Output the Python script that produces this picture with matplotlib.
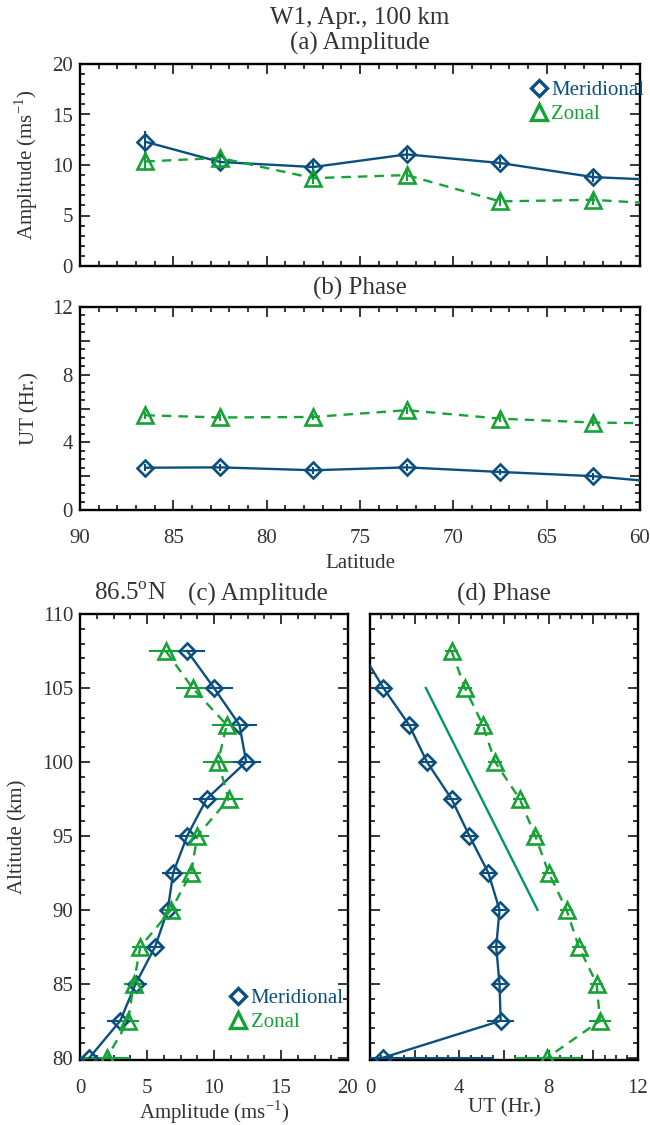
import numpy as np
import matplotlib
matplotlib.use("Agg")
import matplotlib.pyplot as plt
from matplotlib.lines import Line2D
from matplotlib.ticker import MultipleLocator

plt.rcParams['font.family'] = ['Liberation Serif', 'DejaVu Serif']
plt.rcParams['mathtext.fontset'] = 'custom'
plt.rcParams['mathtext.rm'] = 'Liberation Serif'

# latitude cross-section at 100 km
lat = [86.5, 82.5, 77.5, 72.5, 67.5, 62.5, 57.5]
mer_amp_lat = [12.3, 10.3, 9.8, 11.05, 10.2, 8.8, 8.4]
mer_amp_lat_err = [1.1, 0.6, 0.5, 0.5, 0.5, 0.5, 0.5]
zon_amp_lat = [10.35, 10.7, 8.7, 9.0, 6.4, 6.55, 6.0]
zon_amp_lat_err = [0.9, 0.8, 0.6, 0.6, 0.5, 0.5, 0.5]
mer_ph_lat = [2.5, 2.52, 2.35, 2.52, 2.25, 2.0, 1.5]
mer_ph_lat_err = [0.2, 0.2, 0.2, 0.2, 0.2, 0.2, 0.2]
zon_ph_lat = [5.6, 5.47, 5.5, 5.9, 5.4, 5.17, 5.1]
zon_ph_lat_err = [0.2, 0.2, 0.2, 0.2, 0.2, 0.2, 0.2]

# altitude profile at 86.5N
alt = [107.5, 105, 102.5, 100, 97.5, 95, 92.5, 90, 87.5, 85, 82.5, 80]
mer_amp = [8.0, 10.0, 11.9, 12.4, 9.45, 8.0, 6.95, 6.55, 5.6, 4.15, 3.0, 0.7]
mer_amp_err = [1.3, 1.4, 1.3, 1.1, 1.0, 0.9, 0.8, 0.5, 0.55, 0.85, 0.95, 0.9]
zon_amp = [6.4, 8.4, 10.95, 10.3, 11.1, 8.75, 8.3, 6.8, 4.5, 4.0, 3.6, 2.0]
zon_amp_err = [1.25, 1.2, 1.1, 1.1, 1.1, 0.85, 0.75, 0.75, 0.6, 0.75, 0.8, 1.75]
mer_ph = [-0.4, 0.6, 1.75, 2.55, 3.65, 4.45, 5.3, 5.8, 5.65, 5.8, 5.85, 0.57]
mer_ph_err = [0.3, 0.3, 0.3, 0.3, 0.3, 0.3, 0.3, 0.3, 0.3, 0.3, 0.6, 5.0]
zon_ph = [3.65, 4.25, 5.05, 5.6, 6.7, 7.4, 8.0, 8.8, 9.35, 10.15, 10.3, 7.93]
zon_ph_err = [0.3, 0.3, 0.3, 0.3, 0.3, 0.3, 0.3, 0.3, 0.3, 0.3, 0.5, 1.5]

# reference slope line in (d)
ref_ut = [2.5, 7.5]
ref_alt = [105, 90]

blue = '#0b4f7f'
green = '#16a236'
teal = '#00956a'
txt = '#333333'

fig = plt.figure(figsize=(6.5, 11.25), dpi=100)
W, H = 650.0, 1125.0
ax_a = fig.add_axes([80/W, 1-266/H, 560/W, 202/H])
ax_b = fig.add_axes([80/W, 1-510/H, 560/W, 203/H])
ax_c = fig.add_axes([80/W, 1-1060/H, 268/W, 446/H])
ax_d = fig.add_axes([370/W, 1-1060/H, 268/W, 446/H])

mer_kw = dict(color=blue, marker='D', ms=8.5, mfc='none', mew=1.9, lw=1.7,
              elinewidth=1.5, capsize=0, zorder=3)
zon_kw = dict(color=green, marker='^', ms=12, mfc='none', mew=1.9, lw=1.7,
              ls=(0, (4, 3)), elinewidth=1.5, capsize=0, zorder=3)


def style(ax):
    ax.tick_params(which='both', direction='in', top=True, right=True,
                   color='black', labelcolor=txt, labelsize=15)
    ax.tick_params(which='major', length=7, width=1.1)
    ax.tick_params(which='minor', length=3.5, width=1.1)
    ax.tick_params(axis='x', pad=14)
    ax.tick_params(axis='y', pad=5)
    for s in ax.spines.values():
        s.set_linewidth(1.7)


# (a) amplitude vs latitude
ax_a.errorbar(lat, mer_amp_lat, yerr=mer_amp_lat_err, **mer_kw)
ax_a.errorbar(lat, zon_amp_lat, yerr=zon_amp_lat_err, **zon_kw)
ax_a.set_xlim(90, 60)
ax_a.set_ylim(0, 20)
ax_a.xaxis.set_major_locator(MultipleLocator(5))
ax_a.xaxis.set_minor_locator(MultipleLocator(1))
ax_a.yaxis.set_major_locator(MultipleLocator(5))
ax_a.yaxis.set_minor_locator(MultipleLocator(1))
style(ax_a)
ax_a.set_xticklabels([])
ax_a.set_ylabel('Amplitude (ms$^{\\mathregular{-1}}$)', fontsize=15, color=txt)
ax_a.yaxis.set_label_coords(-0.072, 0.5)

# (b) phase vs latitude
ax_b.errorbar(lat, mer_ph_lat, yerr=mer_ph_lat_err, **mer_kw)
ax_b.errorbar(lat, zon_ph_lat, yerr=zon_ph_lat_err, **zon_kw)
ax_b.set_xlim(90, 60)
ax_b.set_ylim(0, 12)
ax_b.xaxis.set_major_locator(MultipleLocator(5))
ax_b.xaxis.set_minor_locator(MultipleLocator(1))
ax_b.set_yticks(np.arange(0, 13, 2))
ax_b.set_yticklabels(['0', '', '4', '', '8', '', '12'])
ax_b.yaxis.set_minor_locator(MultipleLocator(0.5))
style(ax_b)
ax_b.set_ylabel('UT (Hr.)', fontsize=15, color=txt)
ax_b.yaxis.set_label_coords(-0.072, 0.5)
ax_b.set_xlabel('Latitude', fontsize=15, color=txt)
ax_b.xaxis.set_label_coords(0.5, -0.215)

# (c) amplitude vs altitude
ax_c.errorbar(mer_amp, alt, xerr=mer_amp_err, **mer_kw)
ax_c.errorbar(zon_amp, alt, xerr=zon_amp_err, **zon_kw)
ax_c.set_xlim(0, 20)
ax_c.set_ylim(79.85, 110)
ax_c.xaxis.set_major_locator(MultipleLocator(5))
ax_c.xaxis.set_minor_locator(MultipleLocator(1.25))
ax_c.yaxis.set_major_locator(MultipleLocator(5))
ax_c.yaxis.set_minor_locator(MultipleLocator(1))
style(ax_c)
ax_c.set_ylabel('Altitude (km)', fontsize=15, color=txt)
ax_c.yaxis.set_label_coords(-0.195, 0.5)
ax_c.set_xlabel('Amplitude (ms$^{\\mathregular{-1}}$)', fontsize=15, color=txt)
ax_c.xaxis.set_label_coords(0.5, -0.086)

# (d) phase vs altitude
ax_d.errorbar(mer_ph, alt, xerr=mer_ph_err, **mer_kw)
ax_d.errorbar(zon_ph, alt, xerr=zon_ph_err, **zon_kw)
ax_d.plot(ref_ut, ref_alt, color=teal, lw=1.7)
ax_d.set_xlim(0, 12)
ax_d.set_ylim(79.85, 110)
ax_d.set_xticks(np.arange(0, 13, 2))
ax_d.set_xticklabels(['0', '', '4', '', '8', '', '12'])
ax_d.xaxis.set_minor_locator(MultipleLocator(0.5))
ax_d.yaxis.set_major_locator(MultipleLocator(5))
ax_d.yaxis.set_minor_locator(MultipleLocator(1))
style(ax_d)
ax_d.set_yticklabels([])
ax_d.set_xlabel('UT (Hr.)', fontsize=15, color=txt)
ax_d.xaxis.set_label_coords(0.5, -0.086)

# legends
handles = [Line2D([], [], color=blue, marker='D', ls='none', ms=8.5, mfc='none', mew=2.4),
           Line2D([], [], color=green, marker='^', ls='none', ms=12, mfc='none', mew=2.4)]
labels = ['Meridional', 'Zonal']
for ax, loc, anchor in [(ax_a, 'upper right', (1.03, 0.98)),
                        (ax_c, 'lower right', (1.03, 0.035))]:
    ax.legend(handles, labels, loc=loc, bbox_to_anchor=anchor, frameon=False,
              fontsize=15, handlelength=0.8, handletextpad=0.2, labelspacing=0.2,
              borderaxespad=0.2, labelcolor=[blue, green], alignment='left')

# titles
fig.text(360/W, 1-18/H, 'W1, Apr., 100 km', ha='center', va='center', fontsize=18, color=txt)
fig.text(360/W, 1-43/H, '(a) Amplitude', ha='center', va='center', fontsize=18, color=txt)
fig.text(360/W, 1-288/H, '(b) Phase', ha='center', va='center', fontsize=18, color=txt)
fig.text(130/W, 1-594/H, '86.5$^{\\mathregular{o}}$N', ha='center', va='center', fontsize=18, color=txt)
fig.text(258/W, 1-594/H, '(c) Amplitude', ha='center', va='center', fontsize=18, color=txt)
fig.text(504/W, 1-594/H, '(d) Phase', ha='center', va='center', fontsize=18, color=txt)

fig.savefig('out.png', dpi=100)
